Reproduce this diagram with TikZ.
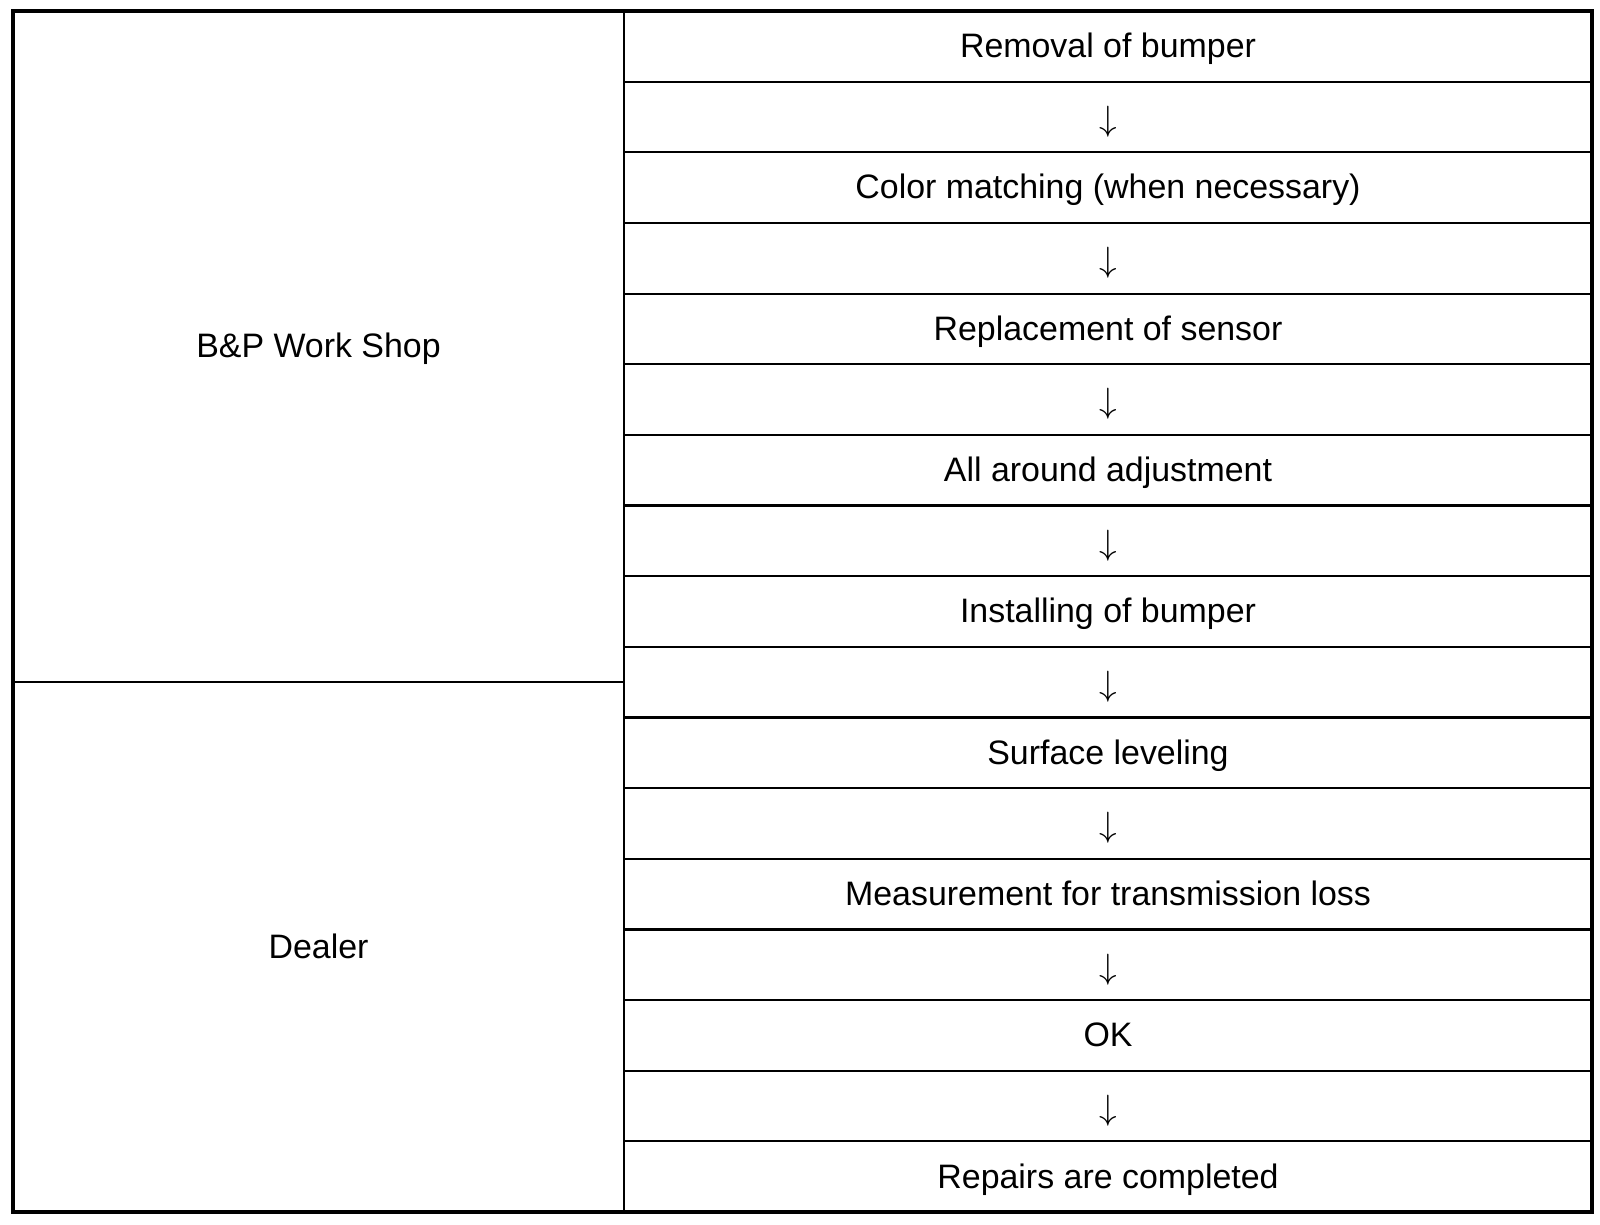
\documentclass[tikz,border=0pt]{standalone}
\usepackage{fontspec}
\setmainfont{Liberation Sans}
\usetikzlibrary{positioning}
\tikzstyle{cell} = [draw,line width=0.6pt,minimum width=9.68cm,minimum height=0.7065cm,inner sep=0pt,outer sep=0pt,font=\fontsize{9.65}{11}\selectfont]
\tikzstyle{side} = [draw,line width=0.6pt,minimum width=6.11cm,inner sep=0pt,outer sep=0pt,font=\fontsize{9.65}{11}\selectfont]

\begin{document}
\begin{tikzpicture}
    \useasboundingbox (0,0) rectangle (16,-12.24);
    % steps on the odd rows, arrows between them
    \foreach \txt [count=\i] in {Removal of bumper,{Color matching (when necessary)},Replacement of sensor,All around adjustment,Installing of bumper,Surface leveling,Measurement for transmission loss,OK,Repairs are completed}
        \node [cell,text depth=0.02cm] (step\i) at (11.08,{-0.11-(2*\i-1.5)*0.7065}) {\txt};
    \foreach \i in {1,...,8}
        \node [cell,below=0pt of step\i,text height=0.335cm] (arr\i) {$\downarrow$};

    \node [side,minimum height=6.7118cm,anchor=north west,text depth=0.02cm] (shop) at (0.13,-0.11) {B\&P Work Shop};
    \node [side,minimum height=5.2988cm,below=0pt of shop,text depth=0.02cm] (dealer) {Dealer};

    \draw [line width=1.2pt] (shop.north west) rectangle (step9.south east);
\end{tikzpicture}
\end{document}
